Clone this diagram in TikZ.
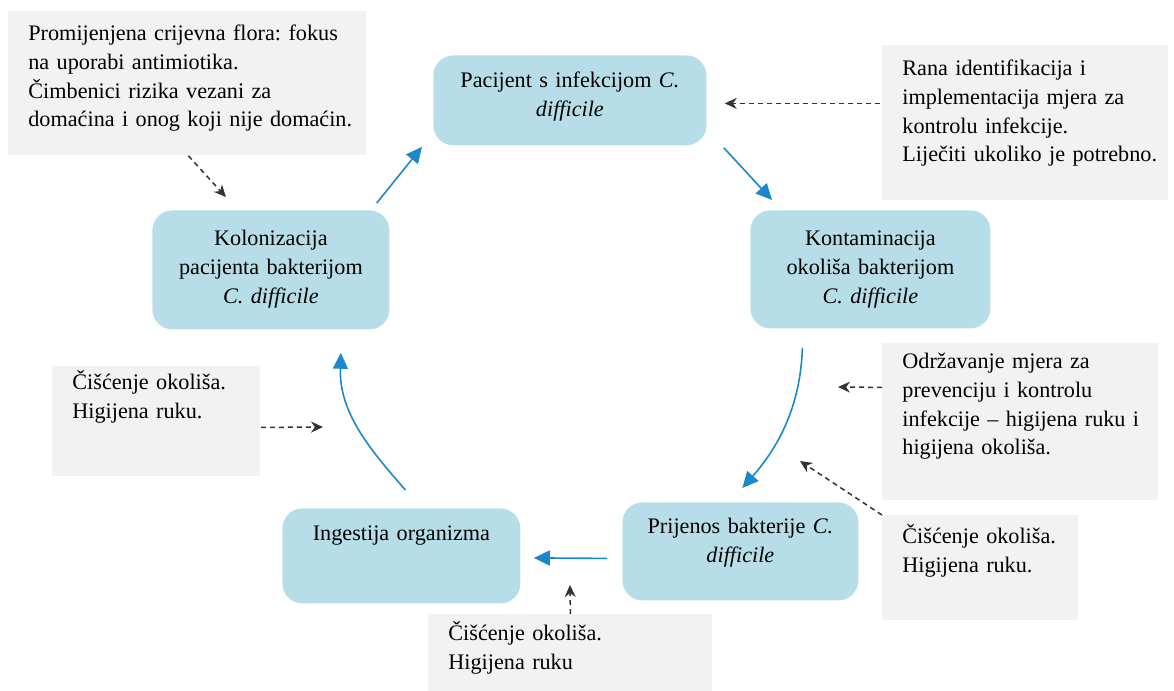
\documentclass[tikz,border=0pt]{standalone}
\usepackage{fontspec}
\setmainfont{Liberation Serif}
\usetikzlibrary{arrows.meta}
\definecolor{boxblue}{RGB}{183,222,232}
\definecolor{flowblue}{RGB}{28,136,204}
\definecolor{notegray}{RGB}{242,242,242}
\frenchspacing

\begin{document}
\begin{tikzpicture}[x=0.5pt,y=-0.5pt,
    font=\fontsize{11.1}{14.4}\selectfont,
    stage/.style={fill=boxblue,rounded corners=10pt,inner sep=0pt,anchor=north west,align=center},
    note/.style={fill=notegray,inner sep=0pt,anchor=north west,align=left,
        execute at begin node={\leftskip=10pt}},
    flow/.style={draw=flowblue,line width=0.8pt,-{Triangle[length=8pt,width=7.5pt]}},
    hint/.style={draw=black!80,line width=0.75pt,dash pattern=on 2.5pt off 2pt,
        -{Stealth[length=6pt,width=5.5pt]}}]
    \useasboundingbox (0,0) rectangle (1174,691);

    \node[stage,text width=136.5pt,text height=16pt,text depth=29pt]
    (pacijent) at (433,55) {Pacijent s infekcijom \textit{C.}\\ \textit{difficile}};
    \node[stage,text width=120pt,text height=17.5pt,text depth=41.5pt]
    (kontaminacija) at (750,210) {Kontaminacija\\ okoliša bakterijom\\ \textit{C. difficile}};
    \node[stage,text width=118pt,text height=15.5pt,text depth=33.5pt]
    (prijenos) at (622,502) {Prijenos bakterije \textit{C.}\\ \textit{difficile}};
    \node[stage,text width=119pt,text height=16pt,text depth=31.5pt]
    (ingestija) at (282,508) {Ingestija organizma};
    \node[stage,text width=118.5pt,text height=17.5pt,text depth=42pt]
    (kolonizacija) at (152,210) {Kolonizacija\\ pacijenta bakterijom\\ \textit{C. difficile}};

    \node[note,text width=179pt,text height=14.5pt,text depth=57.5pt]
    (floraNote) at (8,11) {Promijenjena crijevna flora: fokus\\ na uporabi antimiotika.\\
        Čimbenici rizika vezani za\\ domaćina i onog koji nije domaćin.};
    \node[note,text width=143pt,text height=15pt,text depth=62.5pt]
    (ranaNote) at (882,45) {Rana identifikacija i\\ implementacija mjera za\\
        kontrolu infekcije.\\ Liječiti ukoliko je potrebno.};
    \node[note,text width=138pt,text height=12.5pt,text depth=66pt]
    (odrzNote) at (882,343) {Održavanje mjera za\\ prevenciju i kontrolu\\
        infekcije – higijena ruku i\\ higijena okoliša.};
    \node[note,text width=98pt,text height=14pt,text depth=38.5pt]
    (ciscDesno) at (882,515) {Čišćenje okoliša.\\ Higijena ruku.};
    \node[note,text width=104pt,text height=11.5pt,text depth=43.5pt]
    (ciscLijevo) at (52,366) {Čišćenje okoliša.\\ Higijena ruku.};
    \node[note,text width=142pt,text height=13pt,text depth=32pt]
    (ciscDolje) at (428,614) {Čišćenje okoliša.\\ Higijena ruku};

    \coordinate (desniCilj) at (838,387);
    \coordinate (kosiCilj) at (800,461);
    \coordinate (lijeviCilj) at (323,427);
    \coordinate (donjiCilj) at (570,585);

    \draw[flow] ([shift={(-13,-7)}]kolonizacija.north east) -- ([shift={(-11,1)}]pacijent.south west);
    \draw[flow] ([shift={(17,2)}]pacijent.south east) -- ([shift={(22,-10)}]kontaminacija.north west);
    \draw[flow] ([shift={(-68,19)}]kontaminacija.south) .. controls +(-2,60) and +(35,-40)
        .. ([shift={(2,-14)}]prijenos.north);
    \draw[flow] ([shift={(-15,7)}]prijenos.west) -- ([shift={(13,2)}]ingestija.east);
    \draw[flow] ([shift={(4,-18)}]ingestija.north) .. controls +(-35,-40) and +(-2,60)
        .. ([shift={(70,23)}]kolonizacija.south);

    \draw[hint] ([shift={(1,0)}]floraNote.south) -- ([shift={(-45,-13)}]kolonizacija.north);
    \draw[hint] ([shift={(-2,-19.5)}]ranaNote.west) -- ([shift={(18,3)}]pacijent.east);
    \draw[hint] ([shift={(0,6)}]ciscLijevo.east) -- (lijeviCilj);
    \draw[hint] ([shift={(0,-34.5)}]odrzNote.west) -- (desniCilj);
    \draw[hint] (ciscDesno.north west) -- (kosiCilj);
    \draw[hint] (ciscDolje.north) -- (donjiCilj);
\end{tikzpicture}
\end{document}
